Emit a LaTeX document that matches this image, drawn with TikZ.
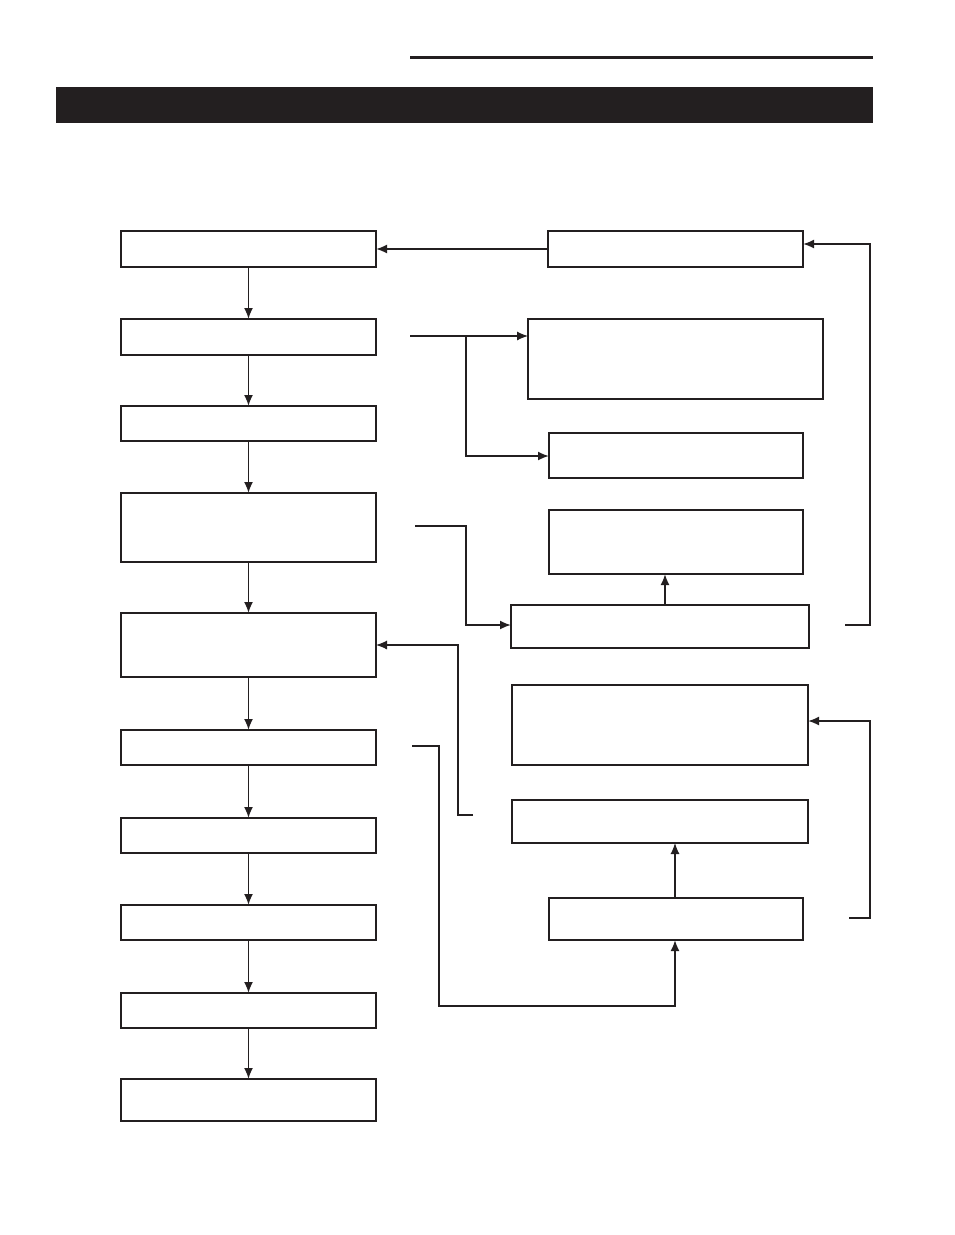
\documentclass[tikz,border=0pt]{standalone}
\usetikzlibrary{arrows.meta}
\definecolor{ink}{HTML}{231F20}
\begin{document}
\begin{tikzpicture}[x=1pt,y=-1pt,
  box/.style={draw=ink,line width=1.8pt,rectangle,inner sep=0pt,outer sep=0pt,anchor=north west},
  conn/.style={draw=ink,line width=1.8pt,-{Latex[length=11pt,width=9pt]}},
  thinconn/.style={draw=ink,line width=1.1pt,-{Latex[length=11pt,width=9pt]}}]
\useasboundingbox (0,0) rectangle (954,1235);
% header
\draw[ink,line width=3pt] (410,57) -- (873,57);
\fill[ink] (56,87) rectangle (873,123);
% left column
\node[box,minimum width=255pt,minimum height=36pt] (b1) at (121,231) {};
\node[box,minimum width=255pt,minimum height=36pt] (b2) at (121,319) {};
\node[box,minimum width=255pt,minimum height=35pt] (b3) at (121,406) {};
\node[box,minimum width=255pt,minimum height=69pt] (b4) at (121,493) {};
\node[box,minimum width=255pt,minimum height=64pt] (b5) at (121,613) {};
\node[box,minimum width=255pt,minimum height=35pt] (b6) at (121,730) {};
\node[box,minimum width=255pt,minimum height=35pt] (b7) at (121,818) {};
\node[box,minimum width=255pt,minimum height=35pt] (b8) at (121,905) {};
\node[box,minimum width=255pt,minimum height=35pt] (b9) at (121,993) {};
\node[box,minimum width=255pt,minimum height=42pt] (b10) at (121,1079) {};
% right column
\node[box,minimum width=255pt,minimum height=36pt] (r1) at (548,231) {};
\node[box,minimum width=295pt,minimum height=80pt] (r2) at (528,319) {};
\node[box,minimum width=254pt,minimum height=45pt] (r3) at (549,433) {};
\node[box,minimum width=254pt,minimum height=64pt] (r4) at (549,510) {};
\node[box,minimum width=298pt,minimum height=43pt] (r5) at (511,605) {};
\node[box,minimum width=296pt,minimum height=80pt] (r6) at (512,685) {};
\node[box,minimum width=296pt,minimum height=43pt] (r7) at (512,800) {};
\node[box,minimum width=254pt,minimum height=42pt] (r8) at (549,898) {};
% free ends
\coordinate (s2) at (410,336);
\coordinate (j2) at (466,336);
\coordinate (s4) at (415,526);
\coordinate (s5) at (845,625);
\coordinate (s7) at (473,815);
\coordinate (s6) at (412,746);
\coordinate (s8) at (849,918);
% left column arrows
\foreach \a/\b in {b1/b2,b2/b3,b3/b4,b4/b5,b5/b6,b6/b7,b7/b8,b8/b9,b9/b10}
  \draw[conn] (\a.south) -- (\b.north);
% right side connectors
\draw[conn] (r1.west |- 0,249) -- (b1.east |- 0,249);
\draw[thinconn] (s2) -- (j2) -- (r2.west |- s2);
\draw[conn] (j2) -- (466,456) -- (r3.west |- 0,456);
\draw[conn] (s4) -- (466,526) -- (466,625) -- (r5.west |- 0,625);
\draw[conn] (r5.north -| 665,0) -- (r4.south -| 665,0);
\draw[conn] (s5) -- (870,625) -- (870,244) -- (r1.east |- 0,244);
\draw[thinconn] (s7) -- (458,815) -- (458,645) -- (b5.east |- 0,645);
\draw[conn] (s6) -- (439,746) -- (439,1006) -- (675,1006) -- (r8.south -| 675,0);
\draw[thinconn] (r8.north -| 675,0) -- (r7.south -| 675,0);
\draw[conn] (s8) -- (870,918) -- (870,721) -- (r6.east |- 0,721);
\end{tikzpicture}
\end{document}
